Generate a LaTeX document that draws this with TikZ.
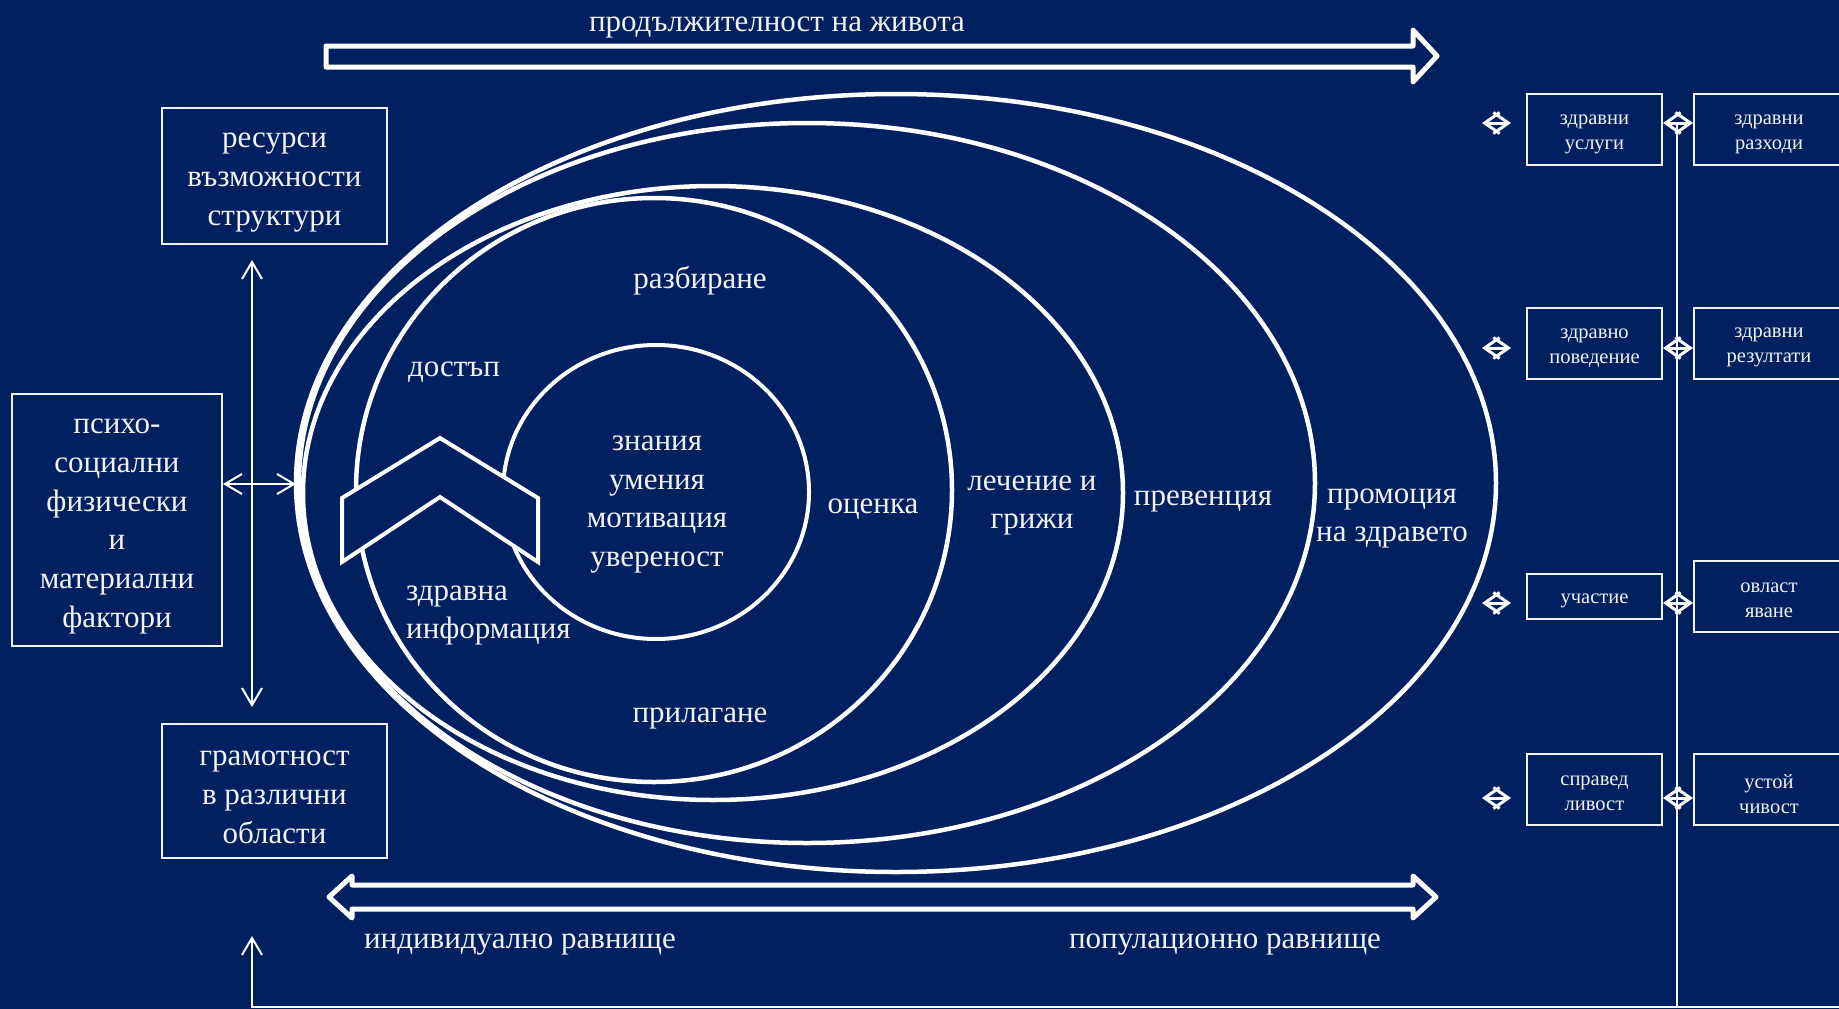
\documentclass[tikz,border=0pt]{standalone}
\usepackage{fontspec}
\setmainfont{Liberation Serif}
\usetikzlibrary{arrows.meta,positioning}

\definecolor{navybg}{HTML}{002060}
\definecolor{txtcol}{HTML}{F2F2F2}
\newcommand{\bigtxt}{\fontsize{31}{38.8}\selectfont}
\newcommand{\smalltxt}{\fontsize{20.5}{25}\selectfont}
\newcommand{\nodelift}{27.5pt}
\newcommand{\hl}{\rule{0pt}{\nodelift}}

\begin{document}
\begin{tikzpicture}[x=1pt,y=-1pt,
    >={Straight Barb[length=17pt,width=20pt]},
    lift/.code={\def\nodelift{#1}},
    every node/.style={text=txtcol,inner sep=0pt,align=center,font=\bigtxt,
      execute at begin node=\hl},
    box/.style={draw=txtcol,line width=2pt},
    smallbox/.style={box,font=\smalltxt,lift=19pt,minimum width=135pt,minimum height=71pt},
    ring/.style={draw=white,line width=4.5pt},
    link/.style={draw=white,line width=2pt},
    marker/.style={draw=white,line width=3pt,>={Straight Barb[length=15pt,width=21pt]},<->},
    blockarrow/.style={draw=white,fill=navybg,line width=5pt,line join=round}]

  % background
  \clip (0,0) rectangle (1839,1009);
  \fill[navybg] (0,0) rectangle (1839,1009);

  % rings
  \draw[ring] (896,483) ellipse [x radius=600,y radius=389];
  \draw[ring] (807,483) ellipse [x radius=508,y radius=360];
  \draw[ring] (713,493) ellipse [x radius=410,y radius=307];
  \draw[ring] (654,490) ellipse [x radius=298,y radius=292];
  \draw[ring,line width=4pt] (656,492) ellipse [x radius=153,y radius=147];

  % chevron
  \draw[blockarrow,line width=4pt,line join=miter] (342,498) -- (440,438) -- (538,498)
    -- (538,562) -- (440,497) -- (342,562) -- cycle;

  % ring labels
  \node (razb) at (700,278) {разбиране};
  \node (dost) at (454,366) {достъп};
  \node (znan) at (657,498) {\hl знания\\умения\\мотивация\\увереност};
  \node (ocen) at (873,503) {оценка};
  \node[anchor=west,align=left] (zinf) at (406,609) {\hl здравна\\информация};
  \node (pril) at (700,712) {прилагане};
  \node (lech) at (1032,499) {\hl лечение и\\грижи};
  \node (prev) at (1203,495) {превенция};
  \node (prom) at (1392,512) {\hl промоция\\на здравето};

  % left boxes
  \node[box,minimum width=225pt,minimum height=136pt] (res) at (274.5,176) {\hl ресурси\\възможности\\структури};
  \node[box,minimum width=210pt,minimum height=252pt] (psy) at (117,520) {\hl психо-\\социални\\физически\\и\\материални\\фактори};
  \node[box,minimum width=225pt,minimum height=134pt] (gram) at (274.5,791) {\hl грамотност\\в различни\\области};

  % left connectors
  \coordinate (vup) at (252,260);
  \coordinate (vdn) at (252,707);
  \coordinate (ewest) at (296,484);
  \draw[link,<->] (vup) -- (vdn);
  \draw[link,<->] (psy.east |- ewest) -- (ewest);

  % feedback line
  \coordinate (vtop) at (1677,123);
  \coordinate (vbot) at (1677,1007);
  \coordinate (rbot) at (1845,1007);
  \coordinate (lbot) at (252,1007);
  \coordinate (ltip) at (252,936);
  \draw[link] (vtop) -- (vbot);
  \draw[link,->] (rbot) -- (lbot) -- (ltip);

  % right column
  \node[smallbox] (usl) at (1594.5,129.5) {\hl здравни\\услуги};
  \node[smallbox,minimum width=150pt,right=30pt of usl] (razh) {\hl здравни\\разходи};
  \node[smallbox] (pov) at (1594.5,343) {\hl здравно\\поведение};
  \node[smallbox,minimum width=150pt,right=30pt of pov] (rez) {\hl здравни\\резултати};
  \node[smallbox,minimum height=45pt] (uch) at (1594.5,596) {участие};
  \node[smallbox,minimum width=150pt,right=30pt of uch] (ovl) {\hl овласт\\яване};
  \node[smallbox] (spr) at (1594.5,789) {\hl справед\\ливост};
  \node[smallbox,minimum width=150pt,lift=23.5pt,right=30pt of spr] (ust) {\hl устой\\чивост};

  \foreach \a/\b/\dy in {usl/razh/6.5, pov/rez/-5, uch/ovl/-7, spr/ust/-9}{
    \draw[marker] ([yshift=\dy pt,xshift=-44pt]\a.west) -- ([yshift=\dy pt,xshift=-15pt]\a.west);
    \draw[marker] ([yshift=\dy pt]\a.east) -- ([yshift=\dy pt]\b.west);
  }

  % level arrows
  \draw[blockarrow] (326,46) -- (1413,46) -- (1413,30) -- (1437,56) -- (1413,82)
    -- (1413,67) -- (326,67) -- cycle;
  \draw[blockarrow] (329,897) -- (352,876) -- (352,885) -- (1413,885) -- (1413,876)
    -- (1436,897) -- (1413,918) -- (1413,909) -- (352,909) -- (352,918) -- cycle;
  \node (life) at (777,21) {продължителност на живота};
  \node (indiv) at (520,938) {индивидуално равнище};
  \node (popul) at (1225,938) {популационно равнище};
\end{tikzpicture}
\end{document}
